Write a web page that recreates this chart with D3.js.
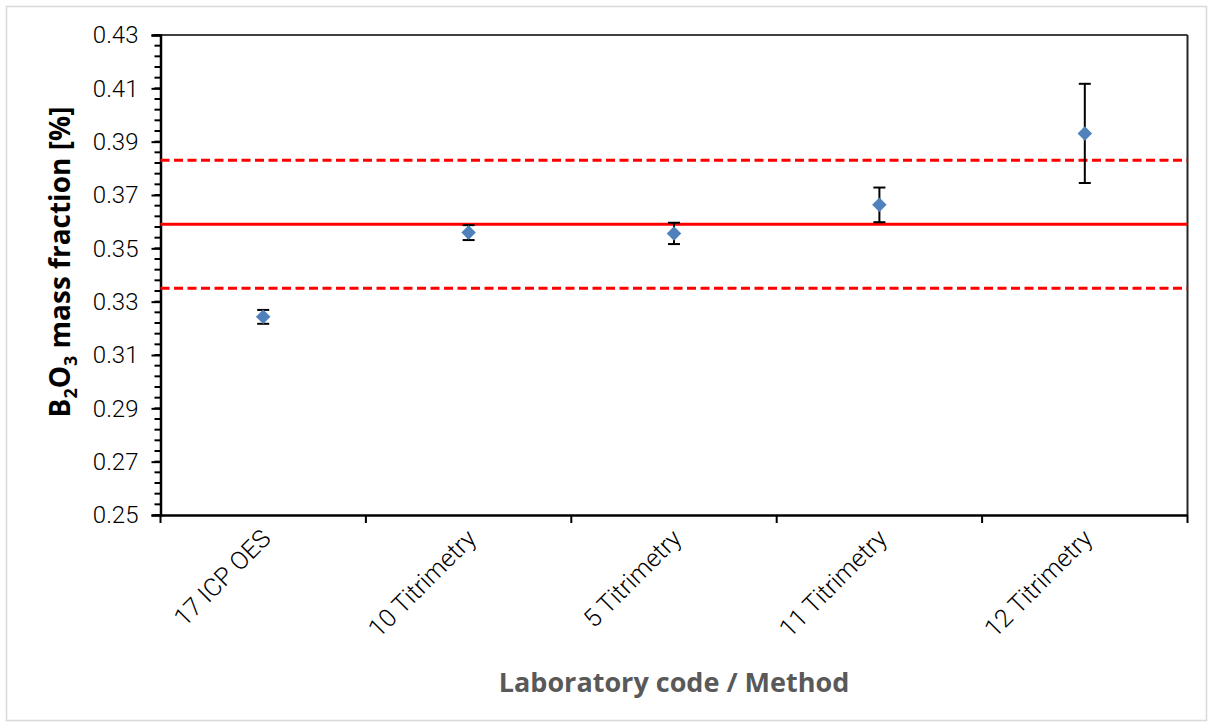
<!DOCTYPE html>
<html>
<head>
<meta charset="utf-8">
<script src="https://cdn.jsdelivr.net/npm/d3@7"></script>
<style>
  html, body { margin: 0; padding: 0; background: #fff; }
  svg { display: block; }
</style>
</head>
<body>
<svg id="chart" width="1213" height="727"></svg>
<script>
// ---- Data ----
const categories = ["17 ICP OES", "10 Titrimetry", "5 Titrimetry", "11 Titrimetry", "12 Titrimetry"];
const values = [0.3243, 0.3559, 0.3556, 0.3663, 0.3931];
const uncertainties = [0.0026, 0.0028, 0.0040, 0.0065, 0.0186];
const referenceValue = 0.359;
const referenceUpper = 0.383;
const referenceLower = 0.335;
const yTicks = [0.25, 0.27, 0.29, 0.31, 0.33, 0.35, 0.37, 0.39, 0.41, 0.43];

// ---- Layout ----
const W = 1213, H = 727;
const m = { left: 160.5, right: 1187.5, top: 35, bottom: 515 };
const svg = d3.select("#chart");

// outer light border
svg.append("rect")
  .attr("x", 6.5).attr("y", 6.5).attr("width", 1200).attr("height", 714)
  .attr("fill", "#fff").attr("stroke", "#d9d9d9").attr("stroke-width", 1.5);

const x = d3.scaleBand().domain(categories).range([m.left, m.right]).padding(0);
const y = d3.scaleLinear().domain([0.25, 0.43]).range([m.bottom, m.top]);

const tickFont = "Roboto, 'DejaVu Sans', sans-serif";

// frame top/right
svg.append("line").attr("x1", m.left).attr("x2", m.right).attr("y1", m.top).attr("y2", m.top)
  .attr("stroke", "#404040").attr("stroke-width", 2);
svg.append("line").attr("x1", m.right).attr("x2", m.right).attr("y1", m.top).attr("y2", m.bottom)
  .attr("stroke", "#262626").attr("stroke-width", 2);

// minor y ticks
const minor = d3.range(0, 46).map(i => 0.25 + i * 0.004).filter(v => v < 0.4301);
svg.append("g").selectAll("line").data(minor).join("line")
  .attr("x1", m.left - 6).attr("x2", m.left)
  .attr("y1", d => y(d)).attr("y2", d => y(d))
  .attr("stroke", "#000").attr("stroke-width", 2);

// y axis
const yAxis = svg.append("g").attr("transform", `translate(${m.left},0)`)
  .call(d3.axisLeft(y).tickValues(yTicks).tickFormat(d3.format(".2f")).tickSize(9).tickPadding(13));
yAxis.select(".domain").attr("stroke", "#000").attr("stroke-width", 2.5);
yAxis.selectAll(".tick line").attr("stroke", "#000").attr("stroke-width", 2);
yAxis.selectAll("text").attr("font-family", tickFont).attr("font-weight", 300)
  .attr("font-size", 24).attr("fill", "#000");

// x axis
const xAxis = svg.append("g").attr("transform", `translate(0,${m.bottom})`)
  .call(d3.axisBottom(x).tickSize(0).tickFormat(""));
xAxis.select(".domain").attr("stroke", "#000").attr("stroke-width", 2.5);
// boundary ticks
const bounds = categories.map(c => x(c)).concat([m.right]);
svg.append("g").selectAll("line").data(bounds).join("line")
  .attr("x1", d => d).attr("x2", d => d)
  .attr("y1", m.bottom).attr("y2", m.bottom + 8)
  .attr("stroke", "#000").attr("stroke-width", 2);
// x labels rotated
svg.append("g").selectAll("text").data(categories).join("text")
  .attr("transform", d => `translate(${x(d) + x.bandwidth() / 2 + 9},${m.bottom + 25}) rotate(-45)`)
  .attr("text-anchor", "end")
  .attr("font-family", tickFont).attr("font-weight", 300).attr("font-size", 25)
  .attr("fill", "#000")
  .text(d => d);

// reference lines
svg.append("line").attr("x1", m.left).attr("x2", m.right)
  .attr("y1", y(referenceValue)).attr("y2", y(referenceValue))
  .attr("stroke", "#ff0000").attr("stroke-width", 3);
[referenceUpper, referenceLower].forEach(v => {
  svg.append("line").attr("x1", m.left).attr("x2", m.right)
    .attr("y1", y(v)).attr("y2", y(v))
    .attr("stroke", "#ff0000").attr("stroke-width", 3)
    .attr("stroke-dasharray", "9,4.5");
});

// error bars
const data = categories.map((c, i) => ({ c, v: values[i], u: uncertainties[i] }));
const eb = svg.append("g").selectAll("g").data(data).join("g");
eb.append("line")
  .attr("x1", d => x(d.c) + x.bandwidth() / 2).attr("x2", d => x(d.c) + x.bandwidth() / 2)
  .attr("y1", d => y(d.v + d.u)).attr("y2", d => y(d.v - d.u))
  .attr("stroke", "#000").attr("stroke-width", 2);
[1, -1].forEach(s => {
  eb.append("line")
    .attr("x1", d => x(d.c) + x.bandwidth() / 2 - 6).attr("x2", d => x(d.c) + x.bandwidth() / 2 + 6)
    .attr("y1", d => y(d.v + s * d.u)).attr("y2", d => y(d.v + s * d.u))
    .attr("stroke", "#000").attr("stroke-width", 2);
});

// diamond markers
svg.append("g").selectAll("path").data(data).join("path")
  .attr("transform", d => `translate(${x(d.c) + x.bandwidth() / 2},${y(d.v)}) rotate(45)`)
  .attr("d", d3.symbol().type(d3.symbolSquare).size(105))
  .attr("fill", "#4f81bd");

// axis titles
svg.append("text")
  .attr("x", (m.left + m.right) / 2).attr("y", 692)
  .attr("text-anchor", "middle")
  .attr("font-family", "'Open Sans', sans-serif").attr("font-weight", 700)
  .attr("font-size", 27).attr("fill", "#595959")
  .text("Laboratory code / Method");

const yt = svg.append("text")
  .attr("transform", `translate(70,262) rotate(-90)`)
  .attr("text-anchor", "middle")
  .attr("font-family", "'Open Sans', sans-serif").attr("font-weight", 700)
  .attr("font-size", 28).attr("fill", "#000");
yt.append("tspan").text("B");
yt.append("tspan").attr("font-size", 18).attr("dy", 7).text("2");
yt.append("tspan").attr("dy", -7).text("O");
yt.append("tspan").attr("font-size", 18).attr("dy", 7).text("3");
yt.append("tspan").attr("dy", -7).text(" mass fraction [%]");
</script>
</body>
</html>
